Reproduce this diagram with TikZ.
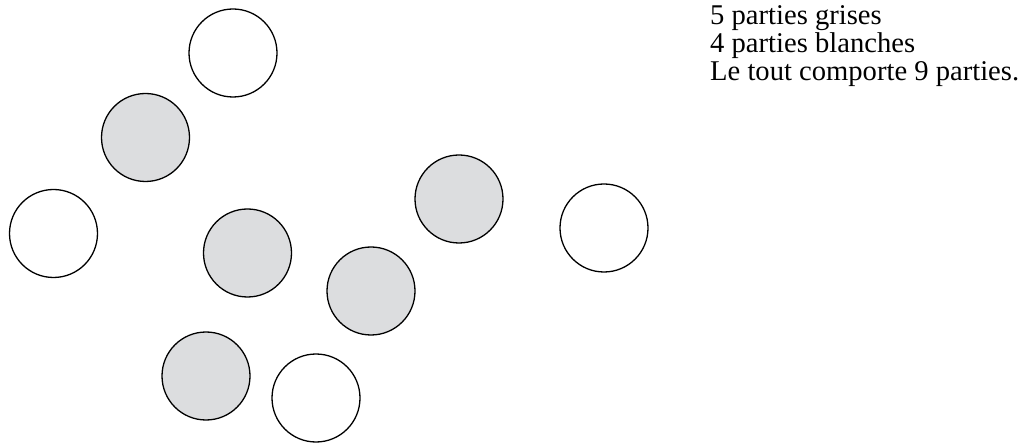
\documentclass[tikz,border=0pt]{standalone}
\usepackage{fontspec}
\setmainfont{Liberation Serif}
\definecolor{partgray}{HTML}{DCDDDF}
\begin{document}
\begin{tikzpicture}[x=1pt,y=-1pt,
  part/.style={circle,draw=black,line width=1.3pt,minimum size=88pt,inner sep=0pt},
  grise/.style={part,fill=partgray},
  blanche/.style={part,fill=white},
  txt/.style={anchor=base west,inner sep=0pt,font=\fontsize{28.6}{28}\selectfont}]
\useasboundingbox (0,0) rectangle (1025,443);
\node[blanche] (c1) at (233,53) {};
\node[grise]   (c2) at (145.5,137.5) {};
\node[blanche] (c3) at (53.5,233.5) {};
\node[grise]   (c4) at (247.5,253) {};
\node[grise]   (c5) at (459,199) {};
\node[blanche] (c6) at (604,228) {};
\node[grise]   (c7) at (371,291) {};
\node[grise]   (c8) at (206,376) {};
\node[blanche] (c9) at (316,398) {};
\node[txt] (t1) at (710,25) {5 parties grises};
\node[txt] (t2) at (710,53) {4 parties blanches};
\node[txt] (t3) at (710,81) {Le tout comporte 9 parties.};
\end{tikzpicture}
\end{document}
